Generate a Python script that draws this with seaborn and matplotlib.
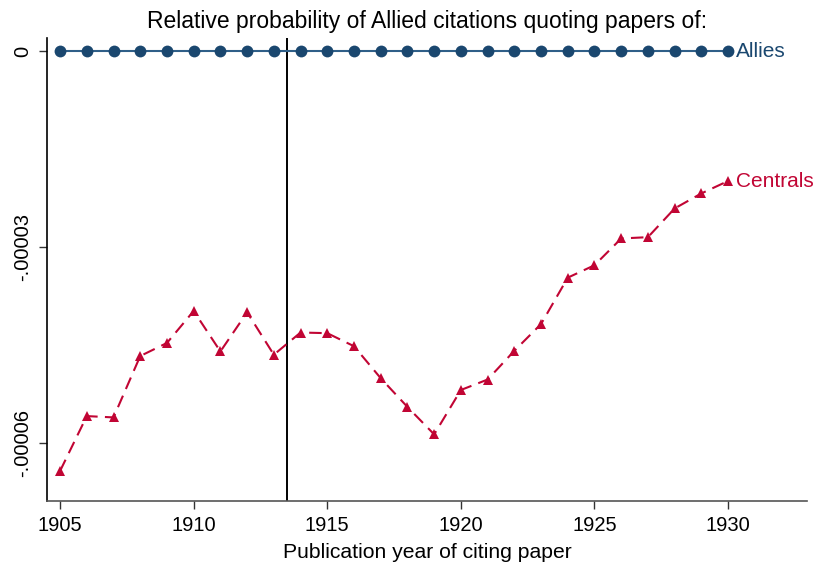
import matplotlib
matplotlib.use("Agg")
import matplotlib.pyplot as plt
import seaborn as sns
import pandas as pd

years = list(range(1905, 1931))
allies = [0.0] * len(years)
centrals = [-64.3, -55.9, -56.1, -46.7, -44.7, -39.8, -46.0, -40.0, -46.5, -43.1,
            -43.2, -45.2, -50.1, -54.5, -58.7, -51.9, -50.3, -45.9, -41.8, -34.7,
            -32.8, -28.7, -28.5, -24.1, -21.8, -19.9]
centrals = [v * 1e-6 for v in centrals]
series_names = ["Allies", "Centrals"]
y_ticks = [0.0, -0.00003, -0.00006]
y_tick_labels = ["0", "-.00003", "-.00006"]
x_ticks = [1905, 1910, 1915, 1920, 1925, 1930]
war_start = 1913.5

navy = "#1a476f"
navy_line = "#2f5f88"
cranberry = "#c10534"

sns.set_theme(style="white")
plt.rcParams["font.family"] = ["Liberation Sans", "DejaVu Sans"]

df_a = pd.DataFrame({"year": years, "value": allies})
df_c = pd.DataFrame({"year": years, "value": centrals})

fig = plt.figure(figsize=(8.17, 5.67), dpi=100)
ax = fig.add_axes([0.0575, 0.1164, 0.988 - 0.0575, 0.933 - 0.1164])

sns.lineplot(data=df_a, x="year", y="value", ax=ax, color=navy_line, linewidth=1.5,
             marker="o", markersize=8.5, markeredgewidth=0, markerfacecolor=navy)
sns.lineplot(data=df_c, x="year", y="value", ax=ax, color=cranberry, linewidth=1.5,
             marker="^", markersize=7.5, markeredgewidth=0, markerfacecolor=cranberry,
             dashes=False, linestyle=(0, (6, 3.5)))

ax.axvline(war_start, color="black", linewidth=1.4, zorder=1)

ax.text(years[-1] + 0.3, allies[-1], series_names[0], color=navy, fontsize=15,
        va="center", ha="left")
ax.text(years[-1] + 0.3, centrals[-1], series_names[1], color=cranberry, fontsize=15,
        va="center", ha="left")

ax.set_xlim(1904.51, 1932.96)
ax.set_ylim(-6.89e-5, 2.0e-6)
ax.set_xticks(x_ticks)
ax.set_xticklabels([str(x) for x in x_ticks])
ax.set_yticks(y_ticks)
ax.set_yticklabels(y_tick_labels, rotation=90, va="center")

ax.tick_params(axis="both", which="major", direction="out", length=5.5, width=1,
               color="#333333", labelsize=14.5, labelcolor="black", pad=5,
               bottom=True, left=True)

for side in ["top", "right"]:
    ax.spines[side].set_visible(False)
ax.spines["left"].set_color("black")
ax.spines["left"].set_linewidth(1.2)
ax.spines["bottom"].set_color("#555555")
ax.spines["bottom"].set_linewidth(1.2)

ax.set_xlabel("Publication year of citing paper", fontsize=15.2, color="black", labelpad=6)
ax.set_ylabel("")
ax.set_title("Relative probability of Allied citations quoting papers of:",
             fontsize=16.5, color="black", pad=7)

fig.savefig("out.png", dpi=100)
